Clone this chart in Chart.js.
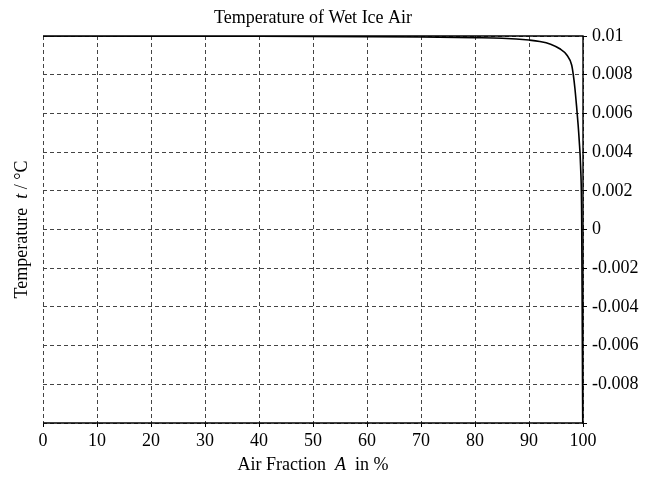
<!DOCTYPE html>
<html>
<head>
<meta charset="utf-8">
<title>Temperature of Wet Ice Air</title>
<script src="https://cdn.jsdelivr.net/npm/chart.js@4.4.1/dist/chart.umd.min.js"></script>
<style>
  html, body { margin: 0; padding: 0; background: #fff; }
  #wrap { width: 653px; height: 477px; position: relative; }
</style>
</head>
<body>
<div id="wrap"><canvas id="wetIceChart"></canvas></div>
<script>
// ===============================
// Data
// ===============================
const airFraction = [0, 10, 20, 30, 40, 50, 60, 70, 80, 85, 90, 92, 94, 95.7, 97, 97.9, 98.2, 98.5, 98.8, 99.1, 99.3, 99.55, 99.75, 99.85, 99.94, 99.96];
const temperature = [0.01, 0.009998, 0.009995, 0.009991, 0.009986, 0.009978, 0.009966, 0.009948, 0.009915, 0.009885, 0.00979, 0.00972, 0.00958, 0.00934, 0.00902, 0.0085, 0.008, 0.0073, 0.0064, 0.0054, 0.0046, 0.0033, 0.0008, -0.004, -0.0095, -0.01];

const xTicks = [0, 10, 20, 30, 40, 50, 60, 70, 80, 90, 100];
const yTicks = [-0.01, -0.008, -0.006, -0.004, -0.002, 0, 0.002, 0.004, 0.006, 0.008, 0.01];

const chartTitle = "Temperature of Wet Ice Air";
const xTitle = [["Air Fraction  ", false], ["A", true], ["  in %", false]];
const yTitle = [["Temperature  ", false], ["t", true], [" / °C", false]];

const FONT_FAMILY = "'Liberation Serif', 'DejaVu Serif', serif";
const FONT_SIZE = 18;

// Draw a line of text made of normal / italic pieces, centred on (cx, cy)
function drawRichText(ctx, pieces, cx, cy, angle) {
  ctx.save();
  ctx.translate(cx, cy);
  ctx.rotate(angle || 0);
  ctx.fillStyle = "#000";
  ctx.textBaseline = "middle";
  ctx.textAlign = "left";

  const fontFor = italic => (italic ? "italic " : "") + FONT_SIZE + "px " + FONT_FAMILY;
  let total = 0;
  pieces.forEach(([txt, italic]) => {
    ctx.font = fontFor(italic);
    total += ctx.measureText(txt).width;
  });

  let x = -total / 2;
  pieces.forEach(([txt, italic]) => {
    ctx.font = fontFor(italic);
    ctx.fillText(txt, x, 0);
    x += ctx.measureText(txt).width;
  });
  ctx.restore();
}

// Titles + solid frame lines (top, bottom, right); left edge stays a dashed grid line
const frameAndTitles = {
  id: "frameAndTitles",
  afterDraw(chart) {
    const { ctx, chartArea } = chart;
    const { left, right, top, bottom } = chartArea;
    const midX = (left + right) / 2;
    const midY = (top + bottom) / 2;

    ctx.save();
    ctx.strokeStyle = "#000";
    ctx.lineWidth = 1.4;
    ctx.beginPath();
    ctx.moveTo(left, top);
    ctx.lineTo(right, top);
    ctx.lineTo(right, bottom);
    ctx.lineTo(left, bottom);
    ctx.stroke();
    ctx.restore();

    drawRichText(ctx, [[chartTitle, false]], midX, 18, 0);
    drawRichText(ctx, xTitle, midX, 465, 0);
    drawRichText(ctx, yTitle, 22, midY, -Math.PI / 2);
  }
};

function formatTick(v) {
  const r = parseFloat(v.toFixed(4));
  if (Math.abs(r - yTicks[0]) < 1e-9) return "";
  return String(r);
}

document.addEventListener("DOMContentLoaded", () => {
  const points = airFraction.map((a, i) => ({ x: a, y: temperature[i] }));

  new Chart(document.getElementById("wetIceChart"), {
    type: "line",
    data: {
      datasets: [
        {
          data: points,
          borderColor: "#000",
          borderWidth: 1.6,
          pointRadius: 0,
          fill: false,
          cubicInterpolationMode: "monotone"
        }
      ]
    },
    options: {
      responsive: true,
      maintainAspectRatio: false,
      animation: false,
      devicePixelRatio: 1,
      layout: { padding: { left: 43, top: 36, right: 0, bottom: 0 } },
      plugins: {
        legend: { display: false },
        tooltip: { enabled: false },
        title: { display: false }
      },
      scales: {
        x: {
          type: "linear",
          position: "bottom",
          min: xTicks[0],
          max: xTicks[xTicks.length - 1],
          afterBuildTicks: scale => {
            scale.ticks = xTicks.map(v => ({ value: v }));
          },
          afterFit: scale => { scale.height = 54; },
          ticks: {
            color: "#000",
            padding: 3,
            maxRotation: 0,
            font: { family: FONT_FAMILY, size: FONT_SIZE }
          },
          grid: {
            color: "#444",
            lineWidth: 1,
            tickLength: 4,
            tickColor: "#000"
          },
          // border itself is drawn solid by the plugin; dash is used for grid lines
          border: { display: false, dash: [4, 3] }
        },
        y: {
          type: "linear",
          position: "right",
          min: yTicks[0],
          max: yTicks[yTicks.length - 1],
          afterBuildTicks: scale => {
            scale.ticks = yTicks.map(v => ({ value: v }));
          },
          afterFit: scale => { scale.width = 70; },
          ticks: {
            color: "#000",
            padding: 5,
            font: { family: FONT_FAMILY, size: FONT_SIZE },
            callback: v => formatTick(v)
          },
          grid: {
            color: "#444",
            lineWidth: 1,
            tickLength: 4,
            tickColor: "#000"
          },
          border: { display: false, dash: [4, 3] }
        }
      }
    },
    plugins: [frameAndTitles]
  });
});
</script>
</body>
</html>
